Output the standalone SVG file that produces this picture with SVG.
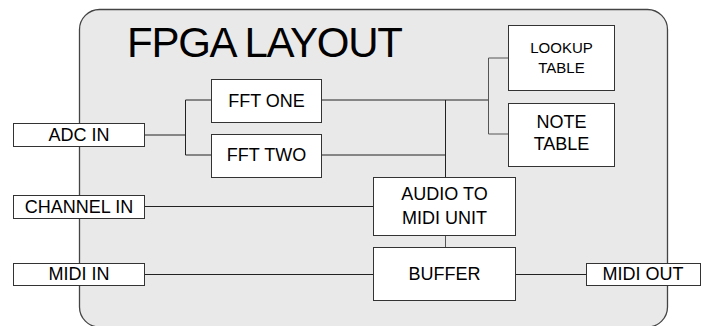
<svg xmlns="http://www.w3.org/2000/svg" width="701" height="326" viewBox="0 0 701 326">
<style>
.bg{fill:#e9e9e9;stroke:#444;stroke-width:1.3}
.box{fill:#fff;stroke:#333;stroke-width:1}
.t{font-family:"Liberation Sans",Arial,sans-serif;font-size:18px;fill:#000;text-anchor:middle}
.ts{font-size:15px}
.c{fill:none;stroke:#222;stroke-width:1}
.cg{fill:none;stroke:#555;stroke-width:1}
</style>
<rect width="701" height="326" fill="#fff"/>
<g id="fpga">
<rect class="bg" x="79.5" y="9.5" width="588" height="317.5" rx="20" ry="20"/>
<text x="127" y="57" style="font-family:'Liberation Sans',Arial,sans-serif;font-size:42px;fill:#000" textLength="276" lengthAdjust="spacing">FPGA LAYOUT</text>
</g>
<g id="connectors">
<polyline class="c" points="145,135 185,135"/>
<polyline class="c" points="212,100 185.5,100 185.5,155 212,155"/>
<polyline class="c" points="322,100 488,100"/>
<polyline class="c" points="322,155 445,155"/>
<polyline class="c" points="445.5,100 445.5,177"/>
<polyline class="cg" points="508,58 488.5,58 488.5,134 508,134"/>
<polyline class="cg" points="445.5,236 445.5,247"/>
<polyline class="c" points="145,206.5 373,206.5"/>
<polyline class="c" points="145,274.5 373,274.5"/>
<polyline class="c" points="516,274.5 587,274.5"/>
</g>
<g id="adc_in"><rect class="box" x="13.5" y="123.5" width="131" height="23"/><text class="t" x="79" y="141">ADC IN</text></g>
<g id="channel_in"><rect class="box" x="13.5" y="195.5" width="131" height="23"/><text class="t" x="79" y="213">CHANNEL IN</text></g>
<g id="midi_in"><rect class="box" x="13.5" y="263.5" width="131" height="22"/><text class="t" x="79" y="280">MIDI IN</text></g>
<g id="midi_out"><rect class="box" x="586.5" y="263.5" width="114" height="22"/><text class="t" x="643" y="280">MIDI OUT</text></g>
<g id="fft_one"><rect class="box" x="211.5" y="79.5" width="110" height="43"/><text class="t" x="266.5" y="107">FFT ONE</text></g>
<g id="fft_two"><rect class="box" x="211.5" y="134.5" width="110" height="43"/><text class="t" x="266.5" y="161">FFT TWO</text></g>
<g id="lookup_table"><rect class="box" x="508.5" y="25.5" width="106" height="65"/><text class="t ts" x="561.5" y="53">LOOKUP</text><text class="t ts" x="561.5" y="73">TABLE</text></g>
<g id="note_table"><rect class="box" x="508.5" y="103.5" width="106" height="63"/><text class="t" x="561.5" y="128">NOTE</text><text class="t" x="561.5" y="150">TABLE</text></g>
<g id="audio_to_midi"><rect class="box" x="373.5" y="177.5" width="142" height="58"/><text class="t" x="444.5" y="200">AUDIO TO</text><text class="t" x="444.5" y="224">MIDI UNIT</text></g>
<g id="buffer"><rect class="box" x="373.5" y="247.5" width="142" height="53"/><text class="t" x="444.5" y="280">BUFFER</text></g>
</svg>
